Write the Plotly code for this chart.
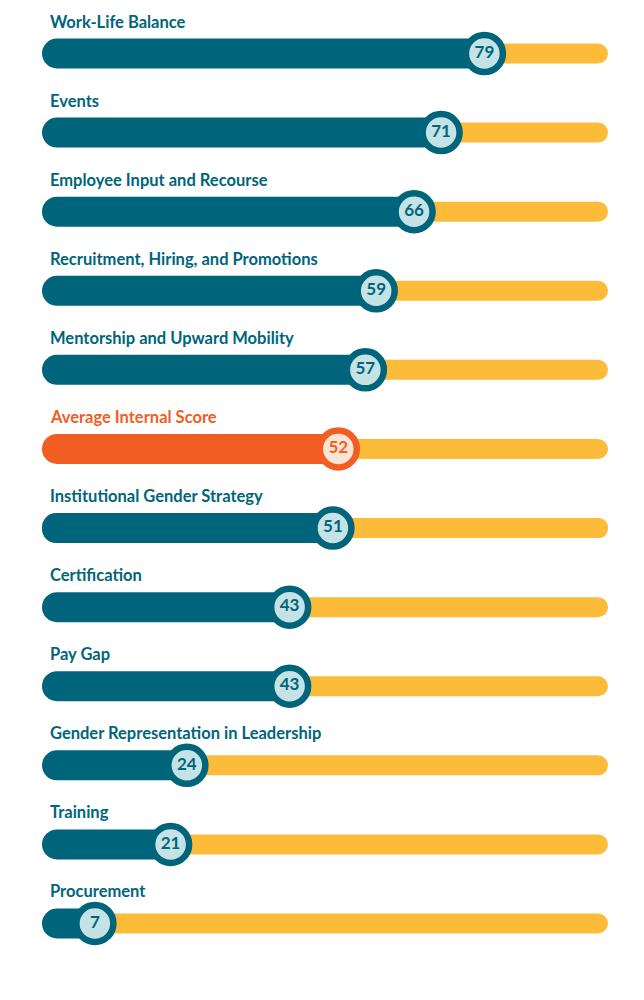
import plotly.graph_objects as go

categories = [
    "Work-Life Balance",
    "Events",
    "Employee Input and Recourse",
    "Recruitment, Hiring, and Promotions",
    "Mentorship and Upward Mobility",
    "Average Internal Score",
    "Institutional Gender Strategy",
    "Certification",
    "Pay Gap",
    "Gender Representation in Leadership",
    "Training",
    "Procurement",
]
scores = [79, 71, 66, 59, 57, 52, 51, 43, 43, 24, 21, 7]
highlight = "Average Internal Score"

TEAL = "#00657A"
YELLOW = "#FDBB3A"
LIGHT = "#C5E2E6"
ORANGE = "#F15E24"
LIGHT_OR = "#FAE4D6"

# page body adds an 8px offset, so geometry is shifted to compensate
# 0 -> 49px, 100 -> 590px inside the plot
PX = 5.41
x0 = -49 / PX
x1 = x0 + 644 / PX
ROW = 79.09
y_top = -45.5 / ROW
y_bot = y_top + 1000 / ROW

rows = list(range(len(categories)))
main_col = [ORANGE if c == highlight else TEAL for c in categories]
inner_col = [LIGHT_OR if c == highlight else LIGHT for c in categories]

track_pad = 10 / PX
fill_pad = 15 / PX

fig = go.Figure()

# yellow track, round cap on the right
fig.add_trace(go.Bar(
    y=rows, x=[100 + 2 * track_pad] * len(rows), base=-track_pad,
    orientation="h", width=20 / ROW,
    marker=dict(color=YELLOW, cornerradius=10, line=dict(width=0)),
    hoverinfo="skip", showlegend=False,
))

# filled part, drawn backwards so the rounded cap lands on the left
fig.add_trace(go.Bar(
    y=rows, x=[-(v + fill_pad) for v in scores], base=scores,
    orientation="h", width=30 / ROW,
    marker=dict(color=main_col, cornerradius=15, line=dict(width=0)),
    hoverinfo="skip", showlegend=False,
))

# score bubbles
fig.add_trace(go.Scatter(
    y=rows, x=scores, mode="markers+text",
    text=[str(v) for v in scores], textposition="middle center",
    textfont=dict(family="Lato", size=17, color=main_col, weight="bold"),
    marker=dict(size=37, color=inner_col, line=dict(color=main_col, width=6.5)),
    hoverinfo="skip", showlegend=False,
))

for i, c in enumerate(categories):
    fig.add_annotation(
        x=0, y=i, xref="x", yref="y", text="<b>%s</b>" % c,
        showarrow=False, xanchor="left", yanchor="middle",
        xshift=-9, yshift=32,
        font=dict(family="Lato", size=16.5, color=main_col[i]),
    )

fig.update_layout(
    width=644, height=1000,
    margin=dict(l=0, r=0, t=0, b=0),
    barmode="overlay",
    plot_bgcolor="white", paper_bgcolor="white",
    xaxis=dict(range=[x0, x1], visible=False, fixedrange=True),
    yaxis=dict(range=[y_bot, y_top], visible=False, fixedrange=True),
)

fig.write_html("out.html")
